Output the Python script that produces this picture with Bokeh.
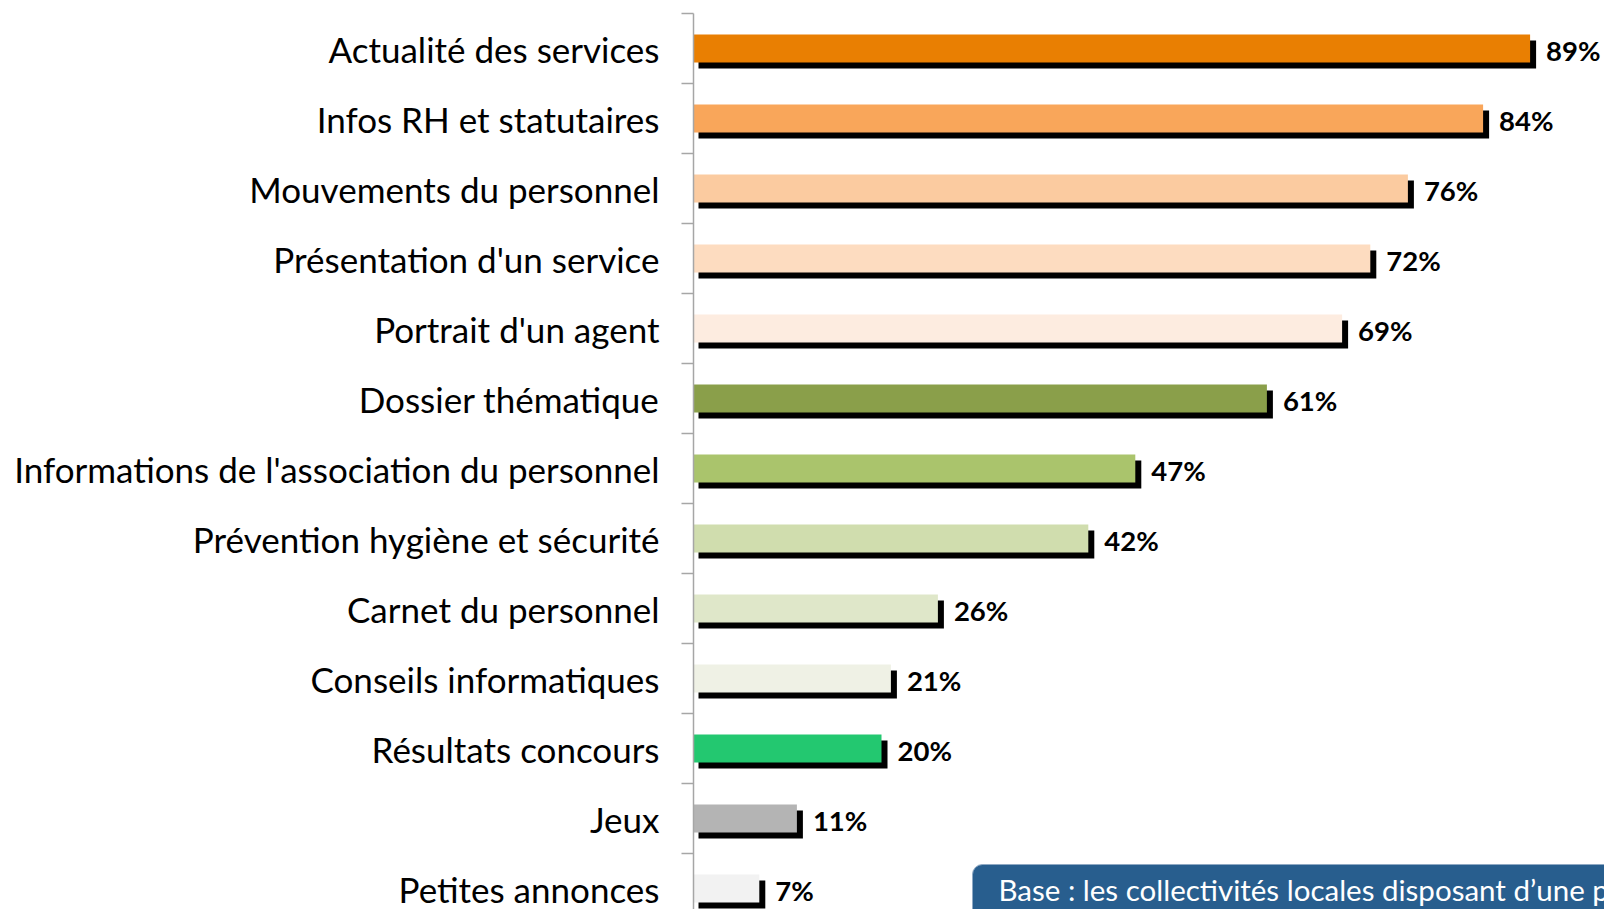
from bokeh.plotting import figure
from bokeh.models import Range1d, FixedTicker, Label, ColumnDataSource
from bokeh.core.properties import value
from bokeh.embed import file_html
from bokeh.resources import INLINE

categories = [
    "Actualité des services",
    "Infos RH et statutaires",
    "Mouvements du personnel",
    "Présentation d'un service",
    "Portrait d'un agent",
    "Dossier thématique",
    "Informations de l'association du personnel",
    "Prévention hygiène et sécurité",
    "Carnet du personnel",
    "Conseils informatiques",
    "Résultats concours",
    "Jeux",
    "Petites annonces",
]
values = [89, 84, 76, 72, 69, 61, 47, 42, 26, 21, 20, 11, 7]
colors = [
    "#E97F02", "#F9A65A", "#FBCBA0", "#FDDCC0", "#FDECE0",
    "#8A9F4A", "#AAC46C", "#D0DDAE", "#DFE7C9", "#EFF1E5",
    "#23C870", "#B4B4B4", "#F2F2F2",
]
value_labels = [f"{v}%" for v in values]
note_text = "Base : les collectivités locales disposant d\u2019une publication interne"

FONT = "Lato"
W, H = 1604, 909
LEFT, TOP = 693, 13
PX_PER_PCT = 9.40
PX_PER_CAT = 70.0

n = len(categories)
ypos = [n - 1 - i for i in range(n)]

frame_w = W - LEFT
frame_h = H - TOP
x_end = frame_w / PX_PER_PCT
y_end = n - 0.5
y_start = y_end - frame_h / PX_PER_CAT

p = figure(width=W, height=H, output_backend="svg", toolbar_location=None,
           x_range=Range1d(0, x_end), y_range=Range1d(y_start, y_end),
           x_axis_location=None, min_border_left=LEFT, min_border_right=0,
           min_border_top=TOP, min_border_bottom=0)
p.outline_line_color = None
p.xgrid.visible = False
p.ygrid.visible = False
p.background_fill_color = "white"
p.border_fill_color = "white"

dx = 6 / PX_PER_PCT
dy = 6 / PX_PER_CAT
src = ColumnDataSource(dict(
    y=ypos, v=values, c=colors, lab=value_labels,
    ys=[y - dy for y in ypos], vs=[v + dx for v in values],
    ls=[5 / PX_PER_PCT] * n,
))
bar_h = 28 / PX_PER_CAT
p.hbar(y="ys", left="ls", right="vs", height=bar_h, source=src,
       fill_color="black", line_color=None)
p.hbar(y="y", left=0, right="v", height=bar_h, source=src,
       fill_color="c", line_color=None)
p.text(x="v", y="y", text="lab", source=src, x_offset=16, y_offset=2,
       text_baseline="middle", text_align="left",
       text_font=value(FONT), text_font_style="bold",
       text_font_size="27.5px", text_color="black")

ax = p.yaxis[0]
ax.ticker = FixedTicker(ticks=ypos, minor_ticks=[y + 0.5 for y in ypos])
ax.major_label_overrides = {y: c for y, c in zip(ypos, categories)}
ax.major_tick_in = 0
ax.major_tick_out = 0
ax.minor_tick_in = 0
ax.minor_tick_out = 12
ax.axis_line_color = "#A6A6A6"
ax.axis_line_width = 1.5
ax.minor_tick_line_color = "#A6A6A6"
ax.minor_tick_line_width = 1.5
ax.major_label_text_font = FONT
ax.major_label_text_font_size = "35px"
ax.major_label_text_color = "black"
ax.major_label_standoff = 22

note = Label(x=(972 - 693) / PX_PER_PCT, y=y_end - (864 - 13) / PX_PER_CAT,
             text=note_text, anchor="top_left",
             text_font=FONT, text_font_size="29.5px", text_color="white",
             background_fill_color="#285E8E", border_line_color="#8FA9C4",
             border_line_width=1,
             padding=dict(left=26, right=12, top=7, bottom=40),
             border_radius=10)
p.add_layout(note)

open("out.html", "w").write(file_html(p, INLINE))
